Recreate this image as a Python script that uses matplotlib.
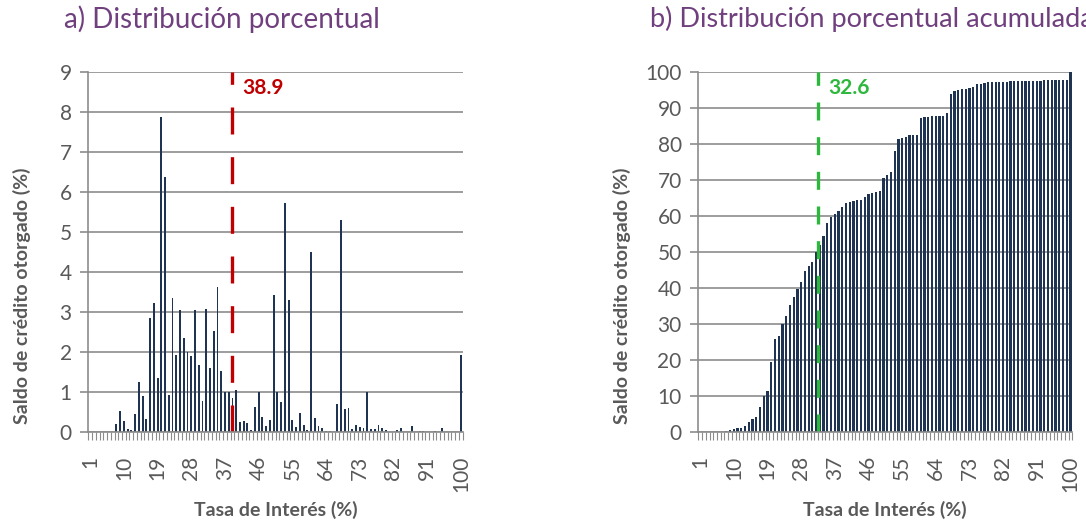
#!/usr/bin/env python3
import numpy as np
import matplotlib
matplotlib.use("Agg")
import matplotlib.pyplot as plt
from matplotlib.ticker import FixedLocator

# Tasa de interes (%) -> categories 1..100
rates = list(range(1, 101))

# a) share of credit balance per rate (%)
share = [
    0, 0, 0, 0, 0, 0, 0, 0.21, 0.53, 0.27,
    0.08, 0.04, 0.44, 1.26, 0.90, 0.33, 2.86, 3.23, 1.36, 7.87,
    6.38, 0.92, 3.36, 1.92, 3.05, 2.36, 2.00, 1.91, 3.04, 1.68,
    0.78, 3.08, 1.61, 2.52, 3.62, 1.53, 1.00, 1.01, 0.85, 1.05,
    0.26, 0.28, 0.23, 0.06, 0.62, 0.99, 0.38, 0.15, 0.30, 3.43,
    1.01, 0.75, 5.72, 3.31, 0.29, 0.13, 0.48, 0.18, 0.04, 4.49,
    0.34, 0.14, 0.10, 0.02, 0.03, 0.00, 0.69, 5.31, 0.57, 0.61,
    0.08, 0.18, 0.13, 0.09, 0.99, 0.07, 0.07, 0.17, 0.09, 0.04,
    0.01, 0.00, 0.04, 0.11, 0.00, 0.00, 0.15, 0.00, 0.03, 0.03,
    0.00, 0.00, 0.02, 0.00, 0.11, 0.00, 0.00, 0.00, 0.00, 1.92,
]

# b) cumulative share (%)
cum_share = [
    0, 0, 0, 0, 0, 0, 0, 0.2, 0.65, 0.93,
    1.0, 1.0, 1.6, 2.8, 3.7, 4.1, 7.0, 10.1, 11.5, 19.5,
    25.9, 26.8, 30.1, 32.1, 35.2, 37.6, 39.6, 41.6, 44.7, 46.2,
    47.2, 50.0, 51.9, 54.4, 58.0, 59.6, 60.6, 61.5, 62.5, 63.5,
    63.8, 64.1, 64.4, 64.4, 65.2, 66.0, 66.5, 66.7, 67.0, 70.5,
    71.4, 72.3, 78.1, 81.4, 81.8, 82.0, 82.4, 82.5, 82.6, 87.1,
    87.5, 87.6, 87.7, 87.7, 87.7, 87.7, 88.5, 94.0, 94.6, 95.1,
    95.3, 95.4, 95.6, 95.7, 96.7, 96.8, 96.9, 97.1, 97.2, 97.2,
    97.2, 97.2, 97.3, 97.4, 97.4, 97.4, 97.5, 97.5, 97.6, 97.6,
    97.6, 97.6, 97.7, 97.7, 97.8, 97.8, 97.8, 97.8, 97.8, 100.0,
]

mean_rate = 38.9
median_rate = 32.6

BAR = "#1f3352"
GRID = "#8c8c8c"
TXT = "#595959"
TITLE = "#70407e"

W, H = 1086, 525

plt.rcParams["font.family"] = ["Lato", "DejaVu Sans"]

fig = plt.figure(figsize=(W / 100, H / 100), dpi=100)
ax1 = fig.add_axes([88.3 / W, 93 / H, 374.4 / W, 360 / H])
ax2 = fig.add_axes([698.3 / W, 93 / H, 374.0 / W, 360 / H])


def style_axis(ax, ymax, ystep, x_left):
    ax.set_xlim(0.5, 100.5)
    ax.set_ylim(0, ymax)
    ax.set_yticks(np.arange(0, ymax + 0.001, ystep))
    ax.set_xticks(rates[::9])
    ax.set_xticklabels([str(r) for r in rates[::9]], rotation=90)
    ax.xaxis.set_minor_locator(FixedLocator(np.arange(0.5, 101, 1)))
    ax.grid(axis="y", color=GRID, linewidth=1.2)
    ax.set_axisbelow(True)
    for side in ["top", "right"]:
        ax.spines[side].set_visible(False)
    for side in ["left", "bottom"]:
        ax.spines[side].set_color(GRID)
        ax.spines[side].set_linewidth(1.2)
    ax.tick_params(axis="y", length=6, width=1.2, color=GRID, labelcolor=TXT,
                   labelsize=15, pad=6)
    ax.tick_params(axis="x", which="major", length=0, labelcolor=TXT,
                   labelsize=15, pad=17)
    ax.tick_params(axis="x", which="minor", length=6, width=0.8, color=GRID)
    # axis titles placed in figure pixels
    fig.text(x_left / W, 1 - 296 / H, "Saldo de crédito otorgado (%)",
             rotation=90, fontsize=14, fontweight="bold", color=TXT,
             ha="center", va="center")
    ax.set_xlabel("Tasa de Interés (%)", fontsize=14, fontweight="bold",
                  color=TXT)
    ax.xaxis.set_label_coords(0.5, -(510 - 432) / 360)
    ax.xaxis.label.set_va("center")


# a) distribution
ax1.bar(rates, share, width=0.5, color=BAR)
style_axis(ax1, 9, 1, 22)
ax1.axvline(mean_rate, color="#c00000", linewidth=2.4, dashes=(8.1, 6.8))
ax1.text(mean_rate + 2.6, 8.6, f"{mean_rate}", color="#c00000",
         fontsize=15, fontweight="bold", va="center")

# b) cumulative distribution
ax2.bar(rates, cum_share, width=0.6, color=BAR)
style_axis(ax2, 100, 10, 622)
ax2.axvline(median_rate, color="#2db83d", linewidth=2.4, dashes=(5.4, 5.0))
ax2.text(median_rate + 2.6, 95.5, f"{median_rate}", color="#2db83d",
         fontsize=15, fontweight="bold", va="center")

fig.text(222 / W, 1 - 19 / H, "a) Distribución porcentual",
         color=TITLE, fontsize=20, ha="center", va="center")
fig.text(650 / W, 1 - 19 / H, "b) Distribución porcentual acumulada",
         color=TITLE, fontsize=19.5, ha="left", va="center")

fig.savefig("out.png", dpi=100)
